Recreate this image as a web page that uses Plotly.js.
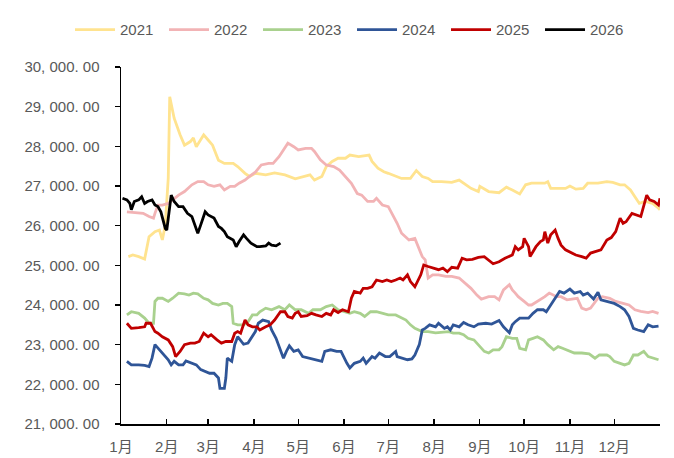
<!DOCTYPE html>
<html>
<head>
<meta charset="utf-8">
<script src="https://cdn.plot.ly/plotly-3.0.1.min.js"></script>
<style>html,body{margin:0;padding:0;background:#fff;}#chart{width:674px;height:458px;}</style>
</head>
<body>
<div id="chart"></div>
<script>
// x = day offset from 1 January; y = price
const seriesNames = ['2021','2022','2023','2024','2025','2026'];

const days2021 = [5,8,12,16,19,23,26,28,30,32,33,36,40,43,47,49,51,56,59,62,66,70,76,79,84,87,91,98,104,111,118,125,128,131,136,139,143,147,152,155,161,168,170,174,178,181,186,190,196,200,204,208,211,217,224,229,237,242,243,249,256,261,265,270,274,278,287,289,291,296,301,304,308,313,316,323,329,333,338,341,345,348,351,355,360,364,365];
const vals2021 = [25220,25260,25220,25160,25720,25850,25890,25640,26020,27200,29250,28710,28290,28030,28120,28210,27990,28290,28160,28030,27650,27570,27570,27490,27320,27240,27320,27280,27330,27280,27180,27240,27280,27150,27240,27490,27620,27700,27700,27780,27740,27780,27620,27450,27360,27320,27250,27190,27190,27390,27240,27190,27110,27110,27090,27150,26940,26860,26990,26860,26830,26970,26900,26800,27030,27070,27070,27110,26940,26940,26940,27000,26920,26940,27070,27070,27110,27090,27030,27030,26900,26730,26560,26610,26560,26440,26400];

const days2022 = [4,9,15,19,22,23,25,28,32,35,39,43,48,52,56,59,63,67,70,74,77,80,84,87,91,95,100,103,107,110,113,117,120,125,129,131,135,139,144,148,152,156,160,163,167,171,173,177,181,184,186,187,190,195,199,202,204,206,208,211,215,220,224,229,232,237,241,244,249,253,256,259,263,265,267,269,273,276,278,282,287,290,295,298,302,309,312,315,318,323,326,331,335,340,344,348,352,357,360,364];
const vals2022 = [26350,26330,26310,26230,26190,26310,26520,26520,26560,26650,26770,26860,27030,27110,27110,27030,26990,27030,26900,26990,26990,27070,27150,27240,27350,27530,27570,27570,27740,27910,28080,27990,27910,27950,27950,27870,27660,27530,27490,27400,27240,27070,26810,26770,26610,26610,26690,26520,26480,26270,26140,26060,25810,25640,25680,25390,25220,25140,24680,24760,24760,24720,24720,24680,24590,24420,24250,24150,24210,24210,24130,24380,24510,24380,24300,24210,24090,24000,24000,24090,24210,24300,24210,24210,24130,24170,23920,23880,23920,24170,24210,24170,24090,24040,24000,23880,23840,23810,23840,23790];

const days2023 = [4,7,12,16,19,22,23,25,28,32,35,39,43,46,49,52,56,59,62,66,69,72,75,76,79,83,86,89,92,94,98,102,107,111,114,118,122,127,130,135,139,143,147,152,155,158,162,165,169,173,178,181,186,188,193,196,199,204,208,213,222,225,229,232,235,239,242,246,249,252,256,258,261,265,268,270,274,276,279,282,286,289,293,296,299,304,307,312,317,321,324,329,331,334,338,341,344,347,350,354,357,360,364];
const vals2023 = [23750,23830,23790,23670,23540,23540,24090,24170,24170,24090,24170,24300,24280,24250,24300,24280,24170,24130,24040,24000,24040,24040,23960,23540,23500,23500,23580,23750,23750,23830,23920,23880,23960,23880,24000,23880,23880,23790,23880,23880,23960,24000,23880,23830,23790,23830,23790,23710,23830,23830,23790,23750,23750,23710,23620,23500,23410,23330,23330,23300,23330,23290,23290,23250,23160,23120,23000,22830,22790,22870,22870,22950,23200,23160,23160,22910,22870,23120,23160,23200,23120,23000,22870,22950,22910,22830,22790,22790,22770,22660,22740,22740,22700,22580,22530,22490,22530,22740,22740,22830,22700,22660,22620];

const days2024 = [4,7,12,16,19,21,23,25,28,32,34,36,39,42,44,48,51,54,58,60,63,66,67,70,71,72,75,77,79,83,86,88,91,93,96,100,102,105,108,110,112,114,117,120,123,128,133,136,138,142,146,149,153,155,158,162,164,166,170,172,175,179,182,186,187,194,197,199,202,204,206,209,213,215,219,221,223,225,229,232,235,239,242,247,251,256,259,263,265,267,270,276,279,282,286,288,291,295,297,300,304,307,311,313,316,320,323,325,330,334,338,341,344,347,350,354,357,360,364];
const vals2024 = [22580,22490,22490,22480,22450,22660,23000,22910,22790,22620,22490,22580,22490,22490,22590,22530,22490,22370,22320,22280,22280,22160,21900,21900,22160,22660,22580,23000,23200,23010,23040,23160,23330,23540,23620,23580,23370,23160,22870,22660,22830,22970,22830,22870,22700,22660,22620,22580,22830,22870,22830,22830,22530,22410,22530,22580,22660,22530,22700,22660,22790,22700,22700,22830,22700,22620,22640,22740,23000,23370,23410,23500,23450,23540,23410,23450,23370,23500,23450,23560,23500,23450,23520,23540,23520,23610,23450,23300,23500,23580,23670,23670,23790,23880,23880,23830,24000,24250,24340,24300,24400,24300,24340,24250,24300,24150,24320,24130,24090,24040,23960,23880,23710,23410,23370,23330,23500,23450,23470];

const days2025 = [4,7,12,16,17,20,23,25,28,32,35,37,40,43,47,50,53,56,59,61,65,68,71,75,77,79,81,84,86,89,92,94,98,101,104,108,111,113,116,118,120,122,126,129,132,136,139,142,144,147,150,154,156,158,162,164,167,170,173,177,180,183,186,189,191,194,196,199,203,205,208,212,215,218,221,224,228,231,234,238,242,246,249,252,256,260,265,267,269,272,273,276,277,281,284,286,287,289,291,294,296,298,301,305,308,312,315,318,322,325,329,332,335,338,340,342,346,349,352,356,358,361,364,365];
const vals2025 = [23540,23410,23430,23450,23540,23540,23330,23290,23200,23120,22950,22700,22830,23000,23040,23040,23080,23290,23200,23250,23120,23040,23080,23080,23290,23330,23290,23620,23500,23450,23450,23370,23450,23500,23620,23830,23830,23710,23670,23790,23830,23710,23730,23790,23750,23710,23790,23750,23880,23810,23880,23830,24170,24340,24300,24420,24420,24460,24630,24590,24630,24590,24630,24680,24630,24760,24590,24460,24760,25010,24970,24930,24890,24930,24840,24950,24930,25180,25140,25150,25200,25220,25140,25040,25090,25180,25260,25470,25390,25470,25680,25470,25220,25470,25600,25640,25850,25560,25770,25890,25680,25510,25390,25310,25260,25220,25180,25310,25350,25390,25640,25700,25850,26190,26060,26100,26310,26270,26230,26770,26650,26610,26520,26690];

const days2026 = [1,4,6,7,9,12,14,16,18,21,23,25,27,30,31,33,34,36,39,42,45,48,50,52,54,57,59,61,63,66,68,70,72,76,78,80,83,85,88,92,94,98,100,102,105,108];
const vals2026 = [26690,26650,26560,26400,26610,26650,26730,26560,26610,26650,26520,26480,26350,25930,25890,26520,26770,26610,26480,26480,26310,26230,26020,25810,26020,26350,26270,26230,26190,25980,25930,25850,25720,25640,25470,25600,25770,25680,25560,25470,25470,25490,25560,25510,25490,25560];

const monthStartDays = [0,31,59,90,120,151,181,212,243,273,304,334,365];
const monthLabels = ['1月','2月','3月','4月','5月','6月','7月','8月','9月','10月','11月','12月',''];
const yTickVals = [21000,22000,23000,24000,25000,26000,27000,28000,29000,30000];
const yTickText = ['21, 000. 00','22, 000. 00','23, 000. 00','24, 000. 00','25, 000. 00','26, 000. 00','27, 000. 00','28, 000. 00','29, 000. 00','30, 000. 00'];

const colors = ['#FFE38F','#F2B3B5','#A9D18E','#2F5597','#C00000','#000000'];
const allDays = [days2021,days2022,days2023,days2024,days2025,days2026];
const allVals = [vals2021,vals2022,vals2023,vals2024,vals2025,vals2026];

const traces = seriesNames.map((n,i)=>({
  type:'scatter', mode:'lines', name:n,
  x: allDays[i], y: allVals[i],
  line:{color:colors[i], width:2.8, shape:'linear'},
  hoverinfo:'skip'
}));

const FONT = '"Liberation Sans", Arial, "Noto Sans CJK SC", sans-serif';
const layout = {
  width:674, height:458,
  margin:{l:121, r:14, t:67, b:34, pad:0},
  paper_bgcolor:'#ffffff', plot_bgcolor:'#ffffff',
  font:{family:FONT, size:15, color:'#595959'},
  showlegend:true,
  legend:{orientation:'h', x:-0.0946, xanchor:'left', y:1.104, yanchor:'middle',
          font:{family:FONT, size:15, color:'#595959'}, itemwidth:40,
          entrywidth:39, entrywidthmode:'pixels', traceorder:'normal',
          bgcolor:'rgba(0,0,0,0)'},
  xaxis:{range:[0,365], tickmode:'array', tickvals:monthStartDays, ticktext:monthLabels,
         ticks:'inside', ticklen:5, tickwidth:1.3, tickcolor:'#000000',
         showline:true, linecolor:'#000000', linewidth:1.5, showgrid:false, zeroline:false,
         tickfont:{family:FONT, size:15, color:'#595959'}, ticklabelstandoff:8},
  yaxis:{range:[21000,30000], tickmode:'array', tickvals:yTickVals, ticktext:yTickText,
         ticks:'outside', ticklen:5, tickwidth:1.3, tickcolor:'#000000',
         showline:true, linecolor:'#000000', linewidth:1.5, showgrid:false, zeroline:false,
         tickfont:{family:FONT, size:15, color:'#595959'}, ticklabelstandoff:12}
};

Plotly.newPlot('chart', traces, layout, {displayModeBar:false, staticPlot:true});
</script>
</body>
</html>
